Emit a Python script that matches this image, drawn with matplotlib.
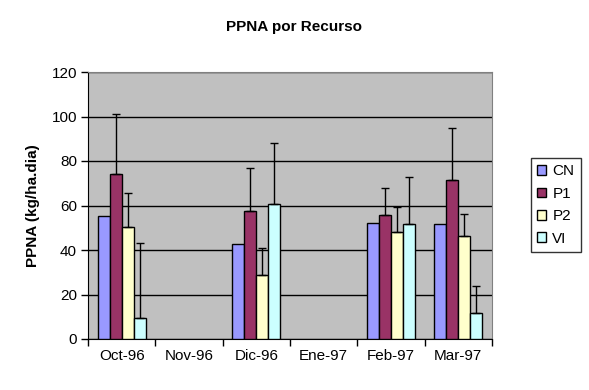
import matplotlib
matplotlib.use("Agg")
import matplotlib.pyplot as plt
import numpy as np

categories = ["Oct-96", "Nov-96", "Dic-96", "Ene-97", "Feb-97", "Mar-97"]
series = ["CN", "P1", "P2", "VI"]
CN = [55.1, np.nan, 42.6, np.nan, 52.3, 51.6]
P1 = [74.3, np.nan, 57.7, np.nan, 55.6, 71.3]
P2 = [50.2, np.nan, 28.6, np.nan, 48.0, 46.2]
VI = [9.3, np.nan, 60.8, np.nan, 51.6, 11.5]
err_CN = [0, 0, 0, 0, 0, 0]
err_P1 = [26.7, 0, 19.0, 0, 12.1, 23.4]
err_P2 = [15.6, 0, 12.4, 0, 11.5, 9.8]
err_VI = [33.7, 0, 27.2, 0, 21.1, 12.5]
colors = ["#9999FF", "#993366", "#FFFFCC", "#CCFFFF"]

plt.rcParams['font.family'] = ['Liberation Sans', 'DejaVu Sans']

fig = plt.figure(figsize=(5.89, 3.90), dpi=100)
ax = fig.add_axes([88/589, 51/390, 404/589, 267/390])
ax.set_facecolor("#C0C0C0")

values = [CN, P1, P2, VI]
errs = [err_CN, err_P1, err_P2, err_VI]
x = np.arange(len(categories))
w = 0.178
for i, (vals, e, c, name) in enumerate(zip(values, errs, colors, series)):
    pos = x + (i - 1.5) * w
    ax.bar(pos, vals, width=w, color=c, edgecolor="black", linewidth=1, label=name, zorder=3)
    ev = np.array(e, dtype=float)
    mask = ev > 0
    if mask.any():
        v = np.array(vals, dtype=float)
        ax.errorbar(pos[mask], v[mask], yerr=[np.zeros(mask.sum()), ev[mask]],
                    fmt="none", ecolor="black", elinewidth=1, capsize=3, capthick=1, zorder=4)

ax.set_xlim(-0.5, len(categories) - 0.5)
ax.set_ylim(0, 120)
ax.set_yticks(np.arange(0, 121, 20))
ax.yaxis.grid(True, color="black", linewidth=1, zorder=1)
ax.set_axisbelow(True)
ax.set_xticks(x)
ax.set_xticklabels(categories, fontsize=11)
ax.tick_params(axis="x", length=0, pad=7)
ax.set_xticks(np.arange(-0.5, len(categories)), minor=True)
ax.tick_params(axis="x", which="minor", length=5, direction="out", width=1)
ax.tick_params(axis="y", length=5, direction="out", width=1, labelsize=11, pad=3)
for s in ["top", "right"]:
    ax.spines[s].set_color("#808080")
for s in ["left", "bottom"]:
    ax.spines[s].set_color("black")

ax.set_ylabel("PPNA (kg/ha.dia)", fontsize=11, fontweight="bold", labelpad=8)
fig.text(0.5, 1 - 27.5/390, "PPNA por Recurso", ha="center", va="center",
         fontsize=11, fontweight="bold")

leg = ax.legend(loc="center left", bbox_to_anchor=(531/589, 1 - 205/390), bbox_transform=fig.transFigure,
                frameon=True, fancybox=False, edgecolor="black", fontsize=11,
                handlelength=0.6, handleheight=0.6, handletextpad=0.4, labelspacing=0.55,
                borderpad=0.4, borderaxespad=0)
leg.get_frame().set_linewidth(1)

fig.savefig("out.png", dpi=100)
